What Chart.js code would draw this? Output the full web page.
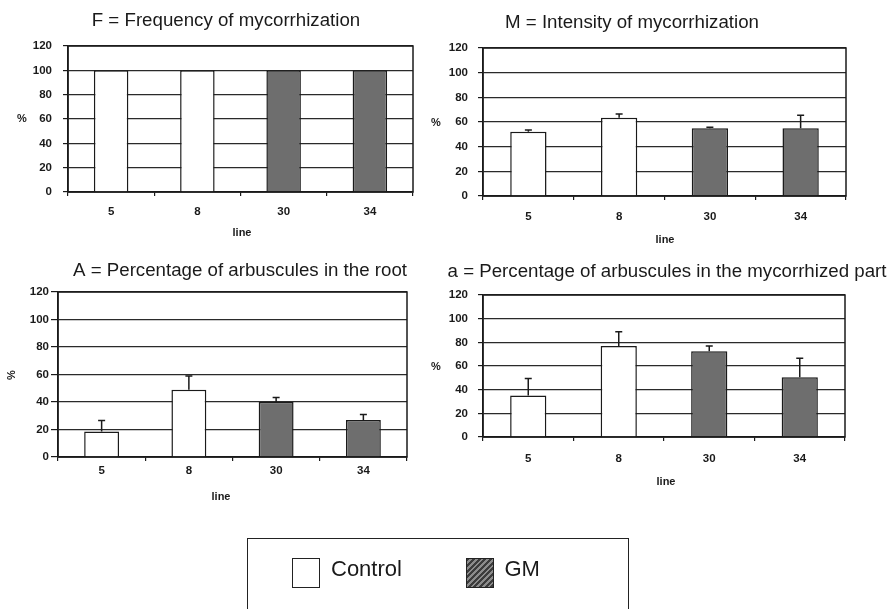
<!DOCTYPE html>
<html>
<head>
<meta charset="utf-8">
<script src="https://cdn.jsdelivr.net/npm/chart.js@4.4.0/dist/chart.umd.min.js"></script>
<style>
  html, body { margin: 0; padding: 0; background: #fff; }
  #wrap { position: relative; width: 893px; height: 609px; overflow: hidden; }
  #wrap canvas { position: absolute; left: 0; top: 0; }
  #legend {
    position: absolute; left: 247px; top: 538px; width: 382px; height: 100px;
    border: 1.5px solid #222; box-sizing: border-box;
    font-family: "Liberation Sans", Arial, sans-serif; font-size: 22px; color: #1a1a1a;
  }
  .sw { position: absolute; top: 18.5px; width: 28px; height: 30px; border: 1.5px solid #222; box-sizing: border-box; }
  .lbl { position: absolute; top: 19px; line-height: 22px; }
</style>
</head>
<body>
<div id="wrap">
  <canvas id="c1" width="893" height="609"></canvas>
  <canvas id="c2" width="893" height="609"></canvas>
  <canvas id="c3" width="893" height="609"></canvas>
  <canvas id="c4" width="893" height="609"></canvas>
  <div id="legend"></div>
</div>
<script>
// data
const lines = ['5', '8', '30', '34'];
const lineGroup = ['Control', 'Control', 'GM', 'GM'];
const groups = ['Control', 'GM'];
const yTicks = [0, 20, 40, 60, 80, 100, 120];

const freqValues = [100, 100, 100, 100];
const freqErrors = [0, 0, 0, 0];
const intensityValues = [52, 63.5, 55, 55];
const intensityErrors = [1.5, 3, 0.7, 10.5];
const arbRootValues = [18.5, 49, 40, 27];
const arbRootErrors = [8, 10, 3.3, 4];
const arbMycValues = [35, 77, 72.5, 50.5];
const arbMycErrors = [14.5, 12, 4.5, 16];

const groupFill = { Control: '#ffffff', GM: '#6e6e6e' };
const ink = '#1a1a1a';
const FONT = '"Liberation Sans", Arial, sans-serif';

// plot areas and text spots, in page pixels
const panels = [
  { id: 'c1', title: 'F = Frequency of mycorrhization', values: freqValues, errors: freqErrors,
    area: { left: 68, right: 413, top: 46, bottom: 192 }, yPad: 11, yTick: 5, xPad: 9,
    titleX: 226, titleY: 26, pctX: 22, pctY: 119, pctRot: false, lineX: 242, lineY: 233 },
  { id: 'c2', title: 'M = Intensity of mycorrhization', values: intensityValues, errors: intensityErrors,
    area: { left: 483, right: 846, top: 48, bottom: 196 }, yPad: 10, yTick: 5, xPad: 10,
    titleX: 632, titleY: 28, pctX: 436, pctY: 123, pctRot: false, lineX: 665, lineY: 240 },
  { id: 'c3', title: 'A = Percentage of arbuscules in the root', values: arbRootValues, errors: arbRootErrors,
    area: { left: 58, right: 407, top: 292, bottom: 457 }, yPad: 2, yTick: 7, xPad: 2.5,
    titleX: 240, titleY: 275.5, pctX: 12, pctY: 375, pctRot: true, lineX: 221, lineY: 497 },
  { id: 'c4', title: 'a = Percentage of arbuscules in the mycorrhized part', values: arbMycValues, errors: arbMycErrors,
    area: { left: 483, right: 845, top: 295, bottom: 437 }, yPad: 10, yTick: 5, xPad: 10.5,
    titleX: 667, titleY: 277, pctX: 436, pctY: 367, pctRot: false, lineX: 666, lineY: 482 }
];

const errorBars = {
  id: 'errorBars',
  afterDatasetsDraw(chart, args, opts) {
    const ctx = chart.ctx;
    const ys = chart.scales.y;
    const vals = chart.data.datasets[0].data;
    chart.getDatasetMeta(0).data.forEach((bar, i) => {
      const e = opts.errors[i];
      if (!e) return;
      const top = ys.getPixelForValue(vals[i] + e);
      ctx.save();
      ctx.strokeStyle = ink;
      ctx.lineWidth = 1.5;
      ctx.beginPath();
      ctx.moveTo(bar.x, bar.y);
      ctx.lineTo(bar.x, top);
      ctx.moveTo(bar.x - 3.5, top);
      ctx.lineTo(bar.x + 3.5, top);
      ctx.stroke();
      ctx.restore();
    });
  }
};

const panelText = {
  id: 'panelText',
  afterDraw(chart, args, p) {
    const ctx = chart.ctx;
    const a = chart.chartArea;
    ctx.save();
    // frame round the plot
    ctx.strokeStyle = ink;
    ctx.lineWidth = 1.5;
    ctx.strokeRect(a.left, a.top, a.right - a.left, a.bottom - a.top);
    ctx.fillStyle = ink;
    ctx.textAlign = 'center';
    ctx.font = '18.7px ' + FONT;
    ctx.textBaseline = 'alphabetic';
    ctx.fillText(p.title, p.titleX, p.titleY);
    ctx.font = 'bold 11px ' + FONT;
    ctx.textBaseline = 'middle';
    ctx.fillText('line', p.lineX, p.lineY);
    if (p.pctRot) {
      ctx.translate(p.pctX, p.pctY);
      ctx.rotate(-Math.PI / 2);
      ctx.fillText('%', 0, 0);
    } else {
      ctx.fillText('%', p.pctX, p.pctY);
    }
    ctx.restore();
  }
};

const Y_W = 40, X_H = 40;

for (const p of panels) {
  const ctx = document.getElementById(p.id).getContext('2d');
  new Chart(ctx, {
    type: 'bar',
    data: {
      labels: lines,
      datasets: [{
        data: p.values,
        backgroundColor: lineGroup.map(g => groupFill[g]),
        borderColor: ink,
        borderWidth: 1.5,
        borderSkipped: 'bottom',
        categoryPercentage: 1,
        barPercentage: 0.4
      }]
    },
    options: {
      responsive: false,
      animation: false,
      layout: {
        padding: {
          left: p.area.left - Y_W,
          right: 893 - p.area.right,
          top: p.area.top,
          bottom: 609 - p.area.bottom - X_H
        }
      },
      plugins: {
        legend: { display: false },
        title: { display: false },
        tooltip: { enabled: false },
        errorBars: { errors: p.errors },
        panelText: p
      },
      scales: {
        x: {
          afterFit: s => { s.height = X_H; },
          grid: { drawOnChartArea: false, drawTicks: true, tickLength: 4, color: ink, lineWidth: 1.2, offset: true },
          border: { display: true, color: ink, width: 1.5 },
          ticks: { color: ink, padding: p.xPad, font: { family: FONT, size: 11.5, weight: 'bold' } }
        },
        y: {
          min: 0,
          max: 120,
          afterFit: s => { s.width = Y_W; },
          afterBuildTicks: s => { s.ticks = yTicks.map(v => ({ value: v })); },
          grid: { color: '#2a2a2a', lineWidth: 1.2, drawTicks: true, tickLength: p.yTick, tickColor: ink },
          border: { display: true, color: ink, width: 1.5 },
          ticks: { color: ink, padding: p.yPad, font: { family: FONT, size: 11.5, weight: 'bold' } }
        }
      }
    },
    plugins: [errorBars, panelText]
  });
}

// figure legend
const legend = document.getElementById('legend');
const swLeft = [44, 218];
const txtLeft = [83, 256.5];
groups.forEach((g, i) => {
  const sw = document.createElement('div');
  sw.className = 'sw';
  sw.style.left = swLeft[i] + 'px';
  if (g === 'GM') {
    sw.style.background = 'repeating-linear-gradient(135deg, #3c3c3c 0 2px, #8c8c8c 2px 4px)';
  } else {
    sw.style.background = groupFill[g];
  }
  const t = document.createElement('span');
  t.className = 'lbl';
  t.style.left = txtLeft[i] + 'px';
  t.textContent = g;
  legend.appendChild(sw);
  legend.appendChild(t);
});
</script>
</body>
</html>
